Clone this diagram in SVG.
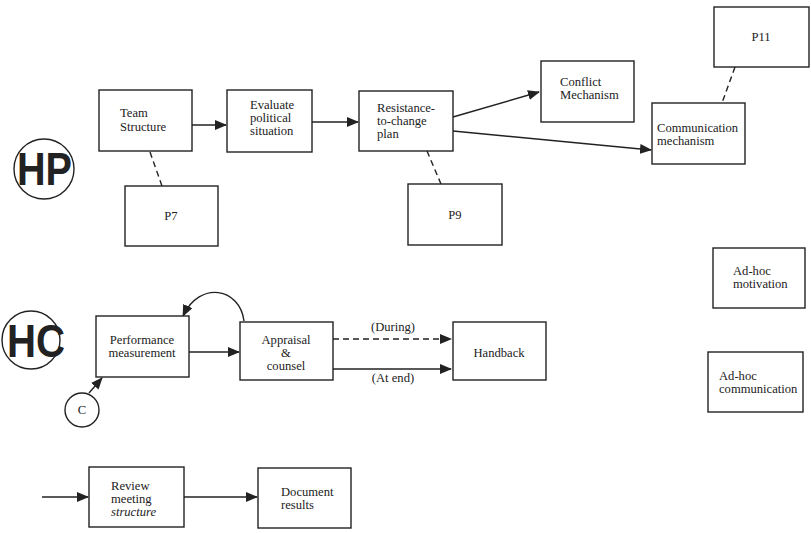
<svg xmlns="http://www.w3.org/2000/svg" width="811" height="533" viewBox="0 0 811 533">
<style>
.box{fill:#fff;stroke:#222;stroke-width:1.4}
.t{font-family:"Liberation Serif",serif;font-size:12.6px;fill:#222}
.c{font-family:"Liberation Serif",serif;font-size:12.6px;fill:#222;text-anchor:middle}
.big{font-family:"Liberation Sans",Arial,sans-serif;font-weight:bold;font-size:46px;fill:#222}
.ln{fill:none;stroke:#222;stroke-width:1.4}
.dash{stroke-dasharray:6,4}
</style>
<defs>
<marker id="ah" viewBox="0 0 12 10" refX="11" refY="5" markerWidth="12" markerHeight="10" markerUnits="userSpaceOnUse" orient="auto">
<path d="M0,0 L12,5 L0,10 Z" fill="#222"/>
</marker>
</defs>
<rect width="811" height="533" fill="#fff"/>

<g id="hp-label">
<circle cx="44" cy="169" r="30" class="ln"/>
<text x="17" y="185" class="big" textLength="55" lengthAdjust="spacingAndGlyphs">HP</text>
</g>
<g id="hc-label">
<circle cx="31" cy="340" r="29" class="ln"/>
<text x="7" y="357" class="big" textLength="58" lengthAdjust="spacingAndGlyphs">HC</text>
</g>

<g id="connectors">
<line x1="192" y1="125" x2="226" y2="125" class="ln" marker-end="url(#ah)"/>
<line x1="312" y1="122" x2="358" y2="122" class="ln" marker-end="url(#ah)"/>
<line x1="453" y1="117" x2="539" y2="92" class="ln" marker-end="url(#ah)"/>
<line x1="453" y1="131" x2="651" y2="150" class="ln" marker-end="url(#ah)"/>
<line x1="150" y1="152" x2="162" y2="186" class="ln dash"/>
<line x1="427" y1="151" x2="441" y2="184" class="ln dash"/>
<line x1="735" y1="67" x2="722" y2="103" class="ln dash"/>
<line x1="189" y1="352" x2="239" y2="352" class="ln" marker-end="url(#ah)"/>
<path d="M244,321 C240,288 200,280 183,316" class="ln" marker-end="url(#ah)"/>
<line x1="333" y1="339" x2="451" y2="339" class="ln dash" marker-end="url(#ah)"/>
<line x1="333" y1="369" x2="451" y2="369" class="ln" marker-end="url(#ah)"/>
<text x="393" y="331" class="c">(During)</text>
<text x="393" y="382" class="c">(At end)</text>
<line x1="89" y1="393" x2="102" y2="378" class="ln" marker-end="url(#ah)"/>
<line x1="42" y1="497" x2="88" y2="497" class="ln" marker-end="url(#ah)"/>
<line x1="184" y1="497" x2="257" y2="497" class="ln" marker-end="url(#ah)"/>
</g>

<g id="team-structure">
<rect x="99" y="90" width="93" height="61" class="box"/>
<text x="120" y="117" class="t">Team</text>
<text x="120" y="131" class="t">Structure</text>
</g>
<g id="evaluate">
<rect x="227" y="90" width="85" height="62" class="box"/>
<text x="250" y="109" class="t">Evaluate</text>
<text x="250" y="122" class="t">political</text>
<text x="250" y="135" class="t">situation</text>
</g>
<g id="resistance">
<rect x="359" y="91" width="94" height="60" class="box"/>
<text x="377" y="112" class="t">Resistance-</text>
<text x="377" y="125" class="t">to-change</text>
<text x="377" y="138" class="t">plan</text>
</g>
<g id="conflict">
<rect x="541" y="61" width="93" height="61" class="box"/>
<text x="560" y="86" class="t">Conflict</text>
<text x="560" y="99" class="t">Mechanism</text>
</g>
<g id="communication">
<rect x="652" y="103" width="93" height="61" class="box"/>
<text x="657" y="132" class="t">Communication</text>
<text x="657" y="145" class="t">mechanism</text>
</g>
<g id="p7">
<rect x="125" y="186" width="93" height="60" class="box"/>
<text x="171" y="220" class="c">P7</text>
</g>
<g id="p9">
<rect x="408" y="184" width="94" height="61" class="box"/>
<text x="455" y="219" class="c">P9</text>
</g>
<g id="p11">
<rect x="714" y="7" width="95" height="60" class="box"/>
<text x="761" y="41" class="c">P11</text>
</g>
<g id="adhoc-motivation">
<rect x="713" y="248" width="92" height="60" class="box"/>
<text x="733" y="275" class="t">Ad-hoc</text>
<text x="733" y="288" class="t">motivation</text>
</g>
<g id="adhoc-communication">
<rect x="708" y="352" width="95" height="60" class="box"/>
<text x="719" y="380" class="t">Ad-hoc</text>
<text x="719" y="393" class="t">communication</text>
</g>
<g id="performance">
<rect x="96" y="316" width="93" height="61" class="box"/>
<text x="142" y="344" class="c">Performance</text>
<text x="142" y="357" class="c">measurement</text>
</g>
<g id="appraisal">
<rect x="240" y="322" width="93" height="58" class="box"/>
<text x="286" y="344" class="c">Appraisal</text>
<text x="286" y="357" class="c">&amp;</text>
<text x="286" y="370" class="c">counsel</text>
</g>
<g id="handback">
<rect x="453" y="322" width="93" height="58" class="box"/>
<text x="499" y="357" class="c">Handback</text>
</g>
<g id="c-node">
<circle cx="82" cy="410" r="17" class="box"/>
<text x="82" y="414" class="c">C</text>
</g>
<g id="review">
<rect x="89" y="467" width="95" height="60" class="box"/>
<text x="111" y="490" class="t">Review</text>
<text x="111" y="503" class="t">meeting</text>
<text x="111" y="516" class="t" font-style="italic">structure</text>
</g>
<g id="document">
<rect x="258" y="468" width="93" height="60" class="box"/>
<text x="281" y="496" class="t">Document</text>
<text x="281" y="509" class="t">results</text>
</g>
</svg>
